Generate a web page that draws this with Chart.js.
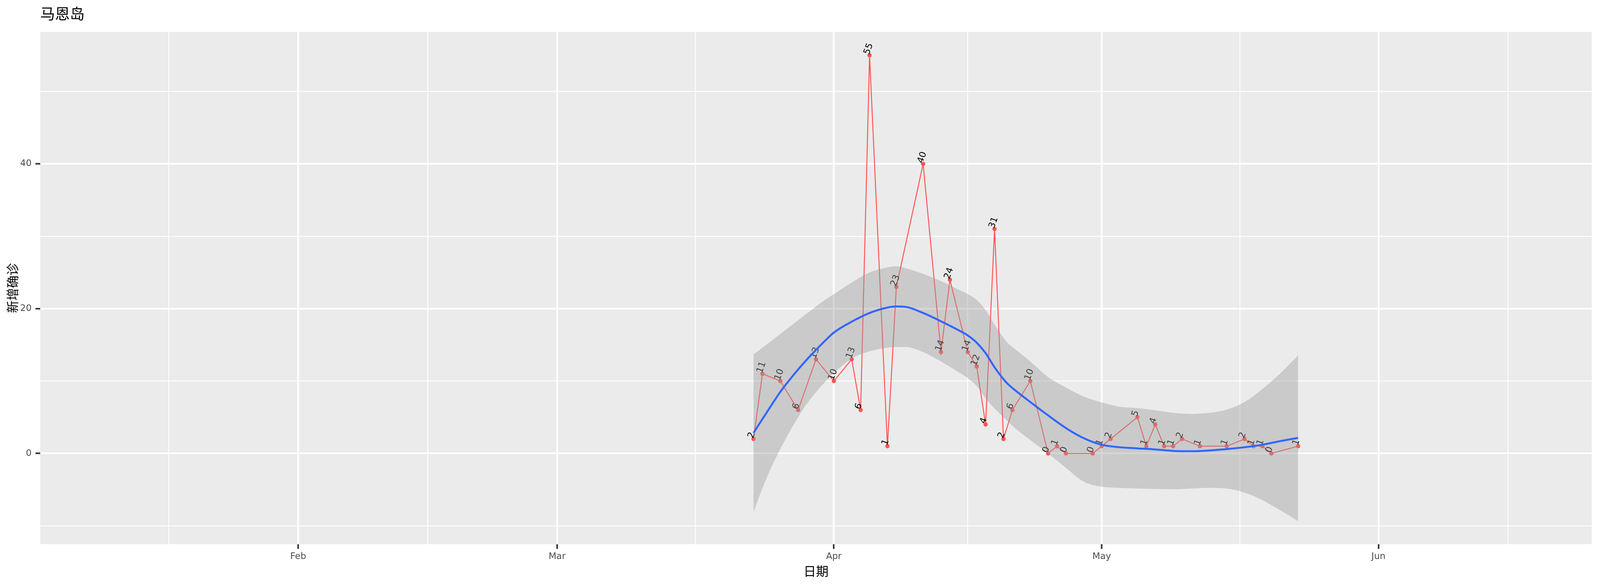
<!DOCTYPE html>
<html>
<head>
<meta charset="utf-8">
<style>
  html, body { margin: 0; padding: 0; background: #fff; overflow: hidden; }
  canvas { display: block; }
</style>
<script src="https://cdn.jsdelivr.net/npm/chart.js@4"></script>
</head>
<body>
<canvas id="chart"></canvas>
<script>
// daily new cases, x is day of 2020 (Jan 1 = 0)
const caseDates = [
  '03-23', '03-24', '03-26', '03-28', '03-30', '04-01', '04-03', '04-04', '04-05', '04-07',
  '04-08', '04-11', '04-13', '04-14', '04-16', '04-17', '04-18', '04-19', '04-20', '04-21',
  '04-23', '04-25', '04-26', '04-27', '04-30', '05-01', '05-02', '05-05', '05-06', '05-07',
  '05-08', '05-09', '05-10', '05-12', '05-15', '05-17', '05-18', '05-19', '05-20', '05-23'
];
const caseValues = [
  2, 11, 10, 6, 13, 10, 13, 6, 55, 1,
  23, 40, 14, 24, 14, 12, 4, 31, 2, 6,
  10, 0, 1, 0, 0, 1, 2, 5, 1, 4,
  1, 1, 2, 1, 1, 2, 1, 1, 0, 1
];

// loess curve and its band
const smoothDays = [
  82, 83, 84, 85, 86, 87, 88, 89, 90, 91,
  93, 95, 97, 98, 99, 101, 103, 105, 106, 107,
  108, 109, 110, 110.5, 111, 113, 115, 117, 119, 121, 123,
  125, 127, 129, 131, 133, 135, 137, 139, 141, 143
];
const smoothMean = [
  2.82, 4.75, 6.65, 8.5, 10.1, 11.6, 13.0, 14.3, 15.55, 16.7,
  18.2, 19.4, 20.15, 20.3, 20.25, 19.4, 18.25, 17.0, 16.3, 15.3,
  13.85, 11.9, 10.25, 9.57, 9.03, 7.1, 5.25, 3.5, 2.1, 1.2, 0.85,
  0.7, 0.55, 0.35, 0.3, 0.4, 0.6, 0.85, 1.2, 1.7, 2.15
];
const smoothUpper = [
  13.7, 14.6, 15.55, 16.5, 17.45, 18.4, 19.35, 20.3, 21.2, 22.0,
  23.6, 25.0, 25.7, 25.85, 25.6, 24.8, 23.8, 22.6, 22.0, 21.2,
  19.8, 17.8, 16.0, 15.2, 14.7, 12.7, 10.55, 9.1, 7.86, 7.05, 6.45,
  6.25, 5.95, 5.6, 5.45, 5.6, 6.05, 7.1, 8.9, 11.05, 13.55
];
const smoothLower = [
  -8.1, -4.8, -1.9, 0.6, 2.9, 5.0, 6.9, 8.45, 9.85, 11.1,
  13.1, 14.1, 14.6, 14.7, 14.7, 14.0, 12.7, 11.2, 10.4, 9.3,
  7.6, 6.2, 5.0, 4.4, 3.8, 1.85, 0, -2.0, -3.9, -4.6, -4.75,
  -4.85, -4.9, -4.95, -4.85, -4.75, -4.85, -5.4, -6.45, -7.85, -9.35
];

const monthTicks = { 31: 'Feb', 60: 'Mar', 91: 'Apr', 121: 'May', 152: 'Jun' };
const xMinorTicks = [16.5, 45.5, 75.5, 106, 136.5, 166.5];
const yMajorTicks = [0, 20, 40];
const yMinorTicks = [-10, 10, 30, 50];

function dayOfYear(md) {
  return (Date.parse('2020-' + md + 'T00:00:00Z') - Date.parse('2020-01-01T00:00:00Z')) / 864e5;
}
function zip(xs, ys) {
  return xs.map((x, i) => ({ x: x, y: ys[i] }));
}

const FONT = '"DejaVu Sans"';
const CJK = '"Noto Sans CJK SC"';

// the window can come up narrower than 4500, so fit the canvas to it
const W = window.innerWidth;
const H = window.innerHeight;
const widthScale = W / 4500;
const canvas = document.getElementById('chart');
canvas.width = W;
canvas.height = H;

// labels sit under the grey band, so draw them right after the red series
const caseLabels = {
  id: 'caseLabels',
  afterDatasetDraw(chart, args) {
    if (args.index !== 0) return;
    const c = chart.ctx;
    args.meta.data.forEach((pt, i) => {
      c.save();
      c.translate(pt.x - 1.5, pt.y - 0.5);
      c.rotate(-70 * Math.PI / 180);
      c.font = '23px ' + FONT;
      c.fillStyle = '#000';
      c.textAlign = 'left';
      c.textBaseline = 'alphabetic';
      c.fillText(String(caseValues[i]), 0, 0);
      c.restore();
    });
  }
};

new Chart(canvas.getContext('2d'), {
  type: 'line',
  data: {
    datasets: [
      {
        data: zip(caseDates.map(dayOfYear), caseValues),
        borderColor: 'rgb(255,85,85)',
        backgroundColor: 'rgb(255,85,85)',
        borderWidth: 2.5,
        pointRadius: 5.5,
        pointBorderWidth: 0,
        tension: 0,
        order: 3
      },
      {
        data: zip(smoothDays, smoothUpper),
        borderWidth: 0,
        borderColor: 'transparent',
        backgroundColor: 'rgba(153,153,153,0.4)',
        pointRadius: 0,
        cubicInterpolationMode: 'monotone',
        fill: '+1',
        order: 2
      },
      {
        data: zip(smoothDays, smoothLower),
        borderWidth: 0,
        borderColor: 'transparent',
        pointRadius: 0,
        cubicInterpolationMode: 'monotone',
        order: 2
      },
      {
        data: zip(smoothDays, smoothMean),
        borderColor: '#3366FF',
        borderWidth: 5,
        pointRadius: 0,
        cubicInterpolationMode: 'monotone',
        order: 1
      }
    ]
  },
  options: {
    responsive: false,
    animation: false,
    devicePixelRatio: 1,
    layout: { padding: { right: 23 * widthScale } },
    plugins: {
      legend: { display: false },
      tooltip: { enabled: false },
      filler: { drawTime: 'beforeDatasetDraw' },
      title: {
        display: true,
        text: '马恩岛',
        align: 'start',
        fullSize: false,
        color: '#000',
        font: { family: CJK, size: 38, weight: 'normal', lineHeight: 1.2 },
        padding: { top: 12, bottom: 24 }
      }
    },
    scales: {
      x: {
        type: 'linear',
        min: 2.1,
        max: 175.9,
        afterBuildTicks(scale) {
          const days = Object.keys(monthTicks).map(Number).concat(xMinorTicks);
          scale.ticks = days.sort((a, b) => a - b).map(v => ({ value: v }));
        },
        afterFit(scale) { scale.height = 107; },
        ticks: {
          autoSkip: false,
          maxRotation: 0,
          padding: 6,
          color: '#4D4D4D',
          font: { family: FONT, size: 23 },
          callback: v => monthTicks[v] || ''
        },
        grid: {
          color: '#fff',
          lineWidth: c => (monthTicks[c.tick.value] ? 4.5 : 2.2),
          tickColor: c => (monthTicks[c.tick.value] ? '#333' : 'transparent'),
          tickWidth: 4,
          tickLength: 12
        },
        border: { display: false },
        title: {
          display: true,
          text: '日期',
          color: '#000',
          font: { family: CJK, size: 32, weight: 'normal' },
          padding: { top: 0, bottom: 19 }
        }
      },
      y: {
        type: 'linear',
        min: -12.54,
        max: 58.23,
        afterBuildTicks(scale) {
          scale.ticks = yMinorTicks.concat(yMajorTicks).sort((a, b) => a - b).map(v => ({ value: v }));
        },
        afterFit(scale) { scale.width = 113 * widthScale; },
        ticks: {
          autoSkip: false,
          padding: 10,
          color: '#4D4D4D',
          font: { family: FONT, size: 23 },
          callback: v => (yMajorTicks.includes(v) ? String(v) : '')
        },
        grid: {
          color: '#fff',
          lineWidth: c => (yMajorTicks.includes(c.tick.value) ? 4.5 : 2.2),
          tickColor: c => (yMajorTicks.includes(c.tick.value) ? '#333' : 'transparent'),
          tickWidth: 4,
          tickLength: 12
        },
        border: { display: false },
        title: {
          display: true,
          text: '新增确诊',
          color: '#000',
          font: { family: CJK, size: 32, weight: 'normal' },
          padding: { top: 13, bottom: 0 }
        }
      }
    }
  },
  plugins: [
    caseLabels,
    {
      id: 'panelBackground',
      beforeDraw(chart) {
        const a = chart.chartArea;
        chart.ctx.fillStyle = '#fff';
        chart.ctx.fillRect(0, 0, chart.width, chart.height);
        chart.ctx.fillStyle = '#EBEBEB';
        chart.ctx.fillRect(a.left, a.top, a.right - a.left, a.bottom - a.top);
      }
    }
  ]
});
</script>
</body>
</html>
